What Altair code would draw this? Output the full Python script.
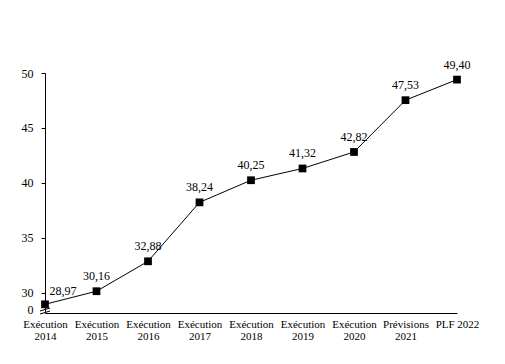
import altair as alt
import pandas as pd

categories = ["Exécution\n2014", "Exécution\n2015", "Exécution\n2016", "Exécution\n2017",
              "Exécution\n2018", "Exécution\n2019", "Exécution\n2020", "Prévisions\n2021", "PLF 2022"]
values = [28.97, 30.16, 32.88, 38.24, 40.25, 41.32, 42.82, 47.53, 49.40]
y_ticks = [30, 35, 40, 45, 50]
y_break = 28.18

df = pd.DataFrame({
    "cat": categories,
    "val": values,
    "lab": [f"{v:.2f}".replace(".", ",") for v in values],
    "idx": list(range(len(values))),
})

FONT = "Liberation Serif"

x_enc = alt.X("cat:N", sort=categories, scale=alt.Scale(type="point", padding=0),
              axis=alt.Axis(title=None, labelAngle=0, ticks=False, domainColor="black",
                            labelExpr="split(datum.label, '\\n')", labelFont=FONT,
                            labelFontSize=11, labelColor="black", labelPadding=5,
                            labelLineHeight=12))
y_enc = alt.Y("val:Q", scale=alt.Scale(domain=[y_break, 50], nice=False, zero=False),
              axis=alt.Axis(title=None, values=[y_break] + y_ticks, grid=False,
                            labelExpr="datum.value < 29 ? '0' : datum.label",
                            labelFont=FONT, labelFontSize=12, labelColor="black",
                            tickColor="black", domainColor="black", tickSize=4,
                            tickOpacity={"condition": {"test": "datum.value < 29", "value": 0}, "value": 1},
                            labelOffset={"condition": {"test": "datum.value < 29", "value": -4}, "value": 0},
                            labelPadding=8))

base = alt.Chart(df)
line = base.mark_line(color="black", strokeWidth=1).encode(x=x_enc, y=y_enc)
pts = base.mark_square(color="black", size=60, opacity=1).encode(x=x_enc, y=y_enc)
txt = base.transform_filter("datum.idx > 0").mark_text(
    font=FONT, fontSize=12, color="black", dy=-15).encode(x=x_enc, y=y_enc, text="lab:N")
txt0 = base.transform_filter("datum.idx == 0").mark_text(
    font=FONT, fontSize=12, color="black", dx=18, dy=-13).encode(x=x_enc, y=y_enc, text="lab:N")

brk_df = pd.DataFrame({"k": [0]})
brk1 = alt.Chart(brk_df).mark_rule(color="black", strokeWidth=1).encode(
    x=alt.value(-5), x2=alt.value(5), y=alt.value(238), y2=alt.value(235))
brk2 = alt.Chart(brk_df).mark_rule(color="black", strokeWidth=1).encode(
    x=alt.value(-5), x2=alt.value(5), y=alt.value(241), y2=alt.value(238))

chart = alt.layer(line, pts, txt, txt0, brk1, brk2).properties(
    width=412, height=240,
    autosize=alt.AutoSizeParams(type="none"),
    padding={"left": 37, "top": 65, "right": 40, "bottom": 43},
    background="white",
).configure_view(stroke=None)

chart.save("out.html", embed_options={"renderer": "svg", "actions": False})
